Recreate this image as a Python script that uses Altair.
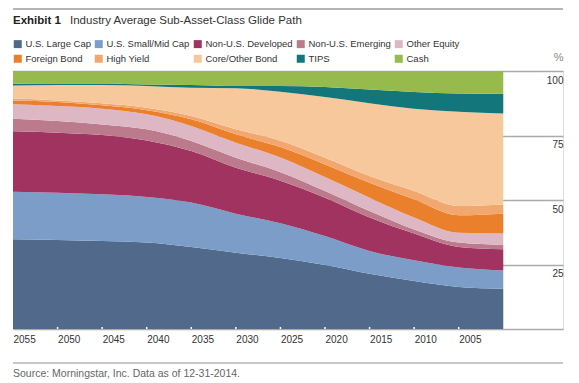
import altair as alt
import pandas as pd

years = [2055, 2050, 2045, 2040, 2035, 2030, 2025, 2020, 2015, 2010, 2005, 2000]

categories = ["U.S. Large Cap", "U.S. Small/Mid Cap", "Non-U.S. Developed", "Non-U.S. Emerging",
              "Other Equity", "Foreign Bond", "High Yield", "Core/Other Bond", "TIPS", "Cash"]
colors = ["#516a8c", "#7b9dc8", "#a0335f", "#bb7b8c", "#ddb8c4",
          "#ea7f2c", "#f2a76e", "#f6c89c", "#13767b", "#97ba4c"]

us_large_cap = [34.8, 34.5, 34.1, 33.5, 31.8, 29.6, 27.5, 24.8, 21.4, 18.6, 16.3, 15.6]
us_small_mid = [18.4, 18.3, 18.1, 17.7, 17.2, 15.1, 13.5, 11.2, 8.8, 8.0, 7.5, 7.1]
non_us_dev = [23.4, 23.3, 23.0, 21.9, 20.0, 17.8, 16.5, 14.9, 13.0, 10.4, 8.0, 8.2]
non_us_emerging = [4.9, 4.5, 4.1, 4.3, 3.9, 3.9, 3.3, 2.6, 2.5, 1.6, 1.7, 1.7]
other_equity = [5.6, 5.8, 6.1, 5.8, 5.8, 5.8, 5.7, 5.4, 5.2, 4.6, 3.8, 4.4]
foreign_bond = [1.5, 1.6, 1.3, 1.6, 2.6, 3.3, 4.0, 4.9, 5.8, 7.1, 6.8, 7.7]
high_yield = [0.7, 0.6, 0.8, 1.0, 1.3, 1.9, 2.5, 2.6, 2.6, 3.2, 3.6, 3.6]
core_bond = [5.1, 6.0, 7.1, 8.4, 10.9, 15.9, 19.0, 23.5, 28.2, 31.9, 36.5, 35.2]
tips = [0.7, 0.6, 0.6, 0.6, 1.1, 0.9, 2.2, 3.9, 5.3, 6.5, 7.1, 7.7]
cash = [4.9, 4.8, 4.8, 5.2, 5.4, 5.8, 5.8, 6.2, 7.2, 8.1, 8.7, 8.8]

series = [us_large_cap, us_small_mid, non_us_dev, non_us_emerging, other_equity,
          foreign_bond, high_yield, core_bond, tips, cash]

tick_years = [2055, 2050, 2045, 2040, 2035, 2030, 2025, 2020, 2015, 2010, 2005]
inner_ticks = [2050, 2045, 2040, 2035, 2030, 2025, 2020, 2015, 2010, 2005]
y_grid = [0, 25, 50, 75, 100]

rows = []
for i, (cat, vals) in enumerate(zip(categories, series)):
    for yr, v in zip(years, vals):
        rows.append({"year": yr, "cls": cat, "idx": i, "pct": v})
df = pd.DataFrame(rows)

FONT = "Liberation Sans, Arial, sans-serif"
W, H = 550, 258

xscale = alt.Scale(domain=[1993.3, 2055], reverse=True, nice=False, zero=False)
yscale = alt.Scale(domain=[0, 100], nice=False)

area = alt.Chart(df).mark_area(interpolate="monotone").encode(
    x=alt.X("year:Q", scale=xscale, title=None,
            axis=alt.Axis(values=tick_years, format="d", labelAlign="left", labelFlush=False,
                          labelPadding=5, ticks=False, tickSize=0, domain=False, grid=False,
                          labelFontSize=10, labelColor="#333", labelFont=FONT)),
    y=alt.Y("pct:Q", stack="zero", scale=yscale, title="%",
            axis=alt.Axis(orient="right", values=y_grid, grid=True, gridColor="#aaaaaa",
                          gridWidth=1.5, domain=False, ticks=False, tickSize=0,
                          labelAlign="right", labelBaseline="top", labelPadding=0,
                          labelOffset=4, labelFontSize=10, labelColor="#333", labelFont=FONT,
                          labelExpr="datum.value == 0 ? '' : datum.label",
                          titleAngle=0, titleAlign="right", titleBaseline="middle",
                          titleX=0, titleY=-14, titleFontSize=11, titleFontWeight="normal",
                          titleColor="#888", titleFont=FONT)),
    color=alt.Color("cls:N", sort=categories,
                    scale=alt.Scale(domain=categories, range=colors),
                    legend=alt.Legend(title=None, orient="none", legendX=0, legendY=-32,
                                      columns=5, direction="horizontal",
                                      symbolType="square", symbolSize=64, symbolStrokeWidth=0,
                                      labelFontSize=9.5, labelFont=FONT, labelColor="#333",
                                      labelOffset=3, columnPadding=3, rowPadding=4,
                                      labelLimit=200)),
    order=alt.Order("idx:Q", sort="ascending"),
)

ticks = alt.Chart(pd.DataFrame({"year": inner_ticks, "y0": [0] * len(inner_ticks),
                                "y1": [0.8] * len(inner_ticks)})).mark_rule(
    color="white", strokeWidth=1.5).encode(
    x=alt.X("year:Q", scale=xscale), y=alt.Y("y0:Q", scale=yscale), y2="y1:Q")

top_rule = alt.Chart(pd.DataFrame({"a": [0]})).mark_rule(color="#b5b5b5", strokeWidth=2).encode(
    x=alt.value(0), x2=alt.value(W), y=alt.value(-62))
bottom_rule = alt.Chart(pd.DataFrame({"a": [0]})).mark_rule(color="#b5b5b5", strokeWidth=1.5).encode(
    x=alt.value(0), x2=alt.value(W), y=alt.value(292))

title1 = alt.Chart(pd.DataFrame({"t": ["Exhibit 1"]})).mark_text(
    align="left", baseline="alphabetic", font=FONT, fontSize=11.5, fontWeight="bold",
    color="#222").encode(x=alt.value(0), y=alt.value(-47), text="t:N")
title2 = alt.Chart(pd.DataFrame({"t": ["Industry Average Sub-Asset-Class Glide Path"]})).mark_text(
    align="left", baseline="alphabetic", font=FONT, fontSize=11.5,
    color="#333").encode(x=alt.value(57), y=alt.value(-47), text="t:N")
source = alt.Chart(pd.DataFrame({"t": ["Source: Morningstar, Inc. Data as of 12-31-2014."]})).mark_text(
    align="left", baseline="alphabetic", font=FONT, fontSize=10.5,
    color="#666").encode(x=alt.value(0), y=alt.value(305.5), text="t:N")

chart = alt.layer(area, ticks, top_rule, bottom_rule, title1, title2, source).properties(
    width=W, height=H,
    padding={"left": 4, "top": 0, "right": 4, "bottom": 2},
).configure_view(stroke=None).configure(font=FONT)

chart.save("out.html", embed_options={"renderer": "svg", "actions": False})
